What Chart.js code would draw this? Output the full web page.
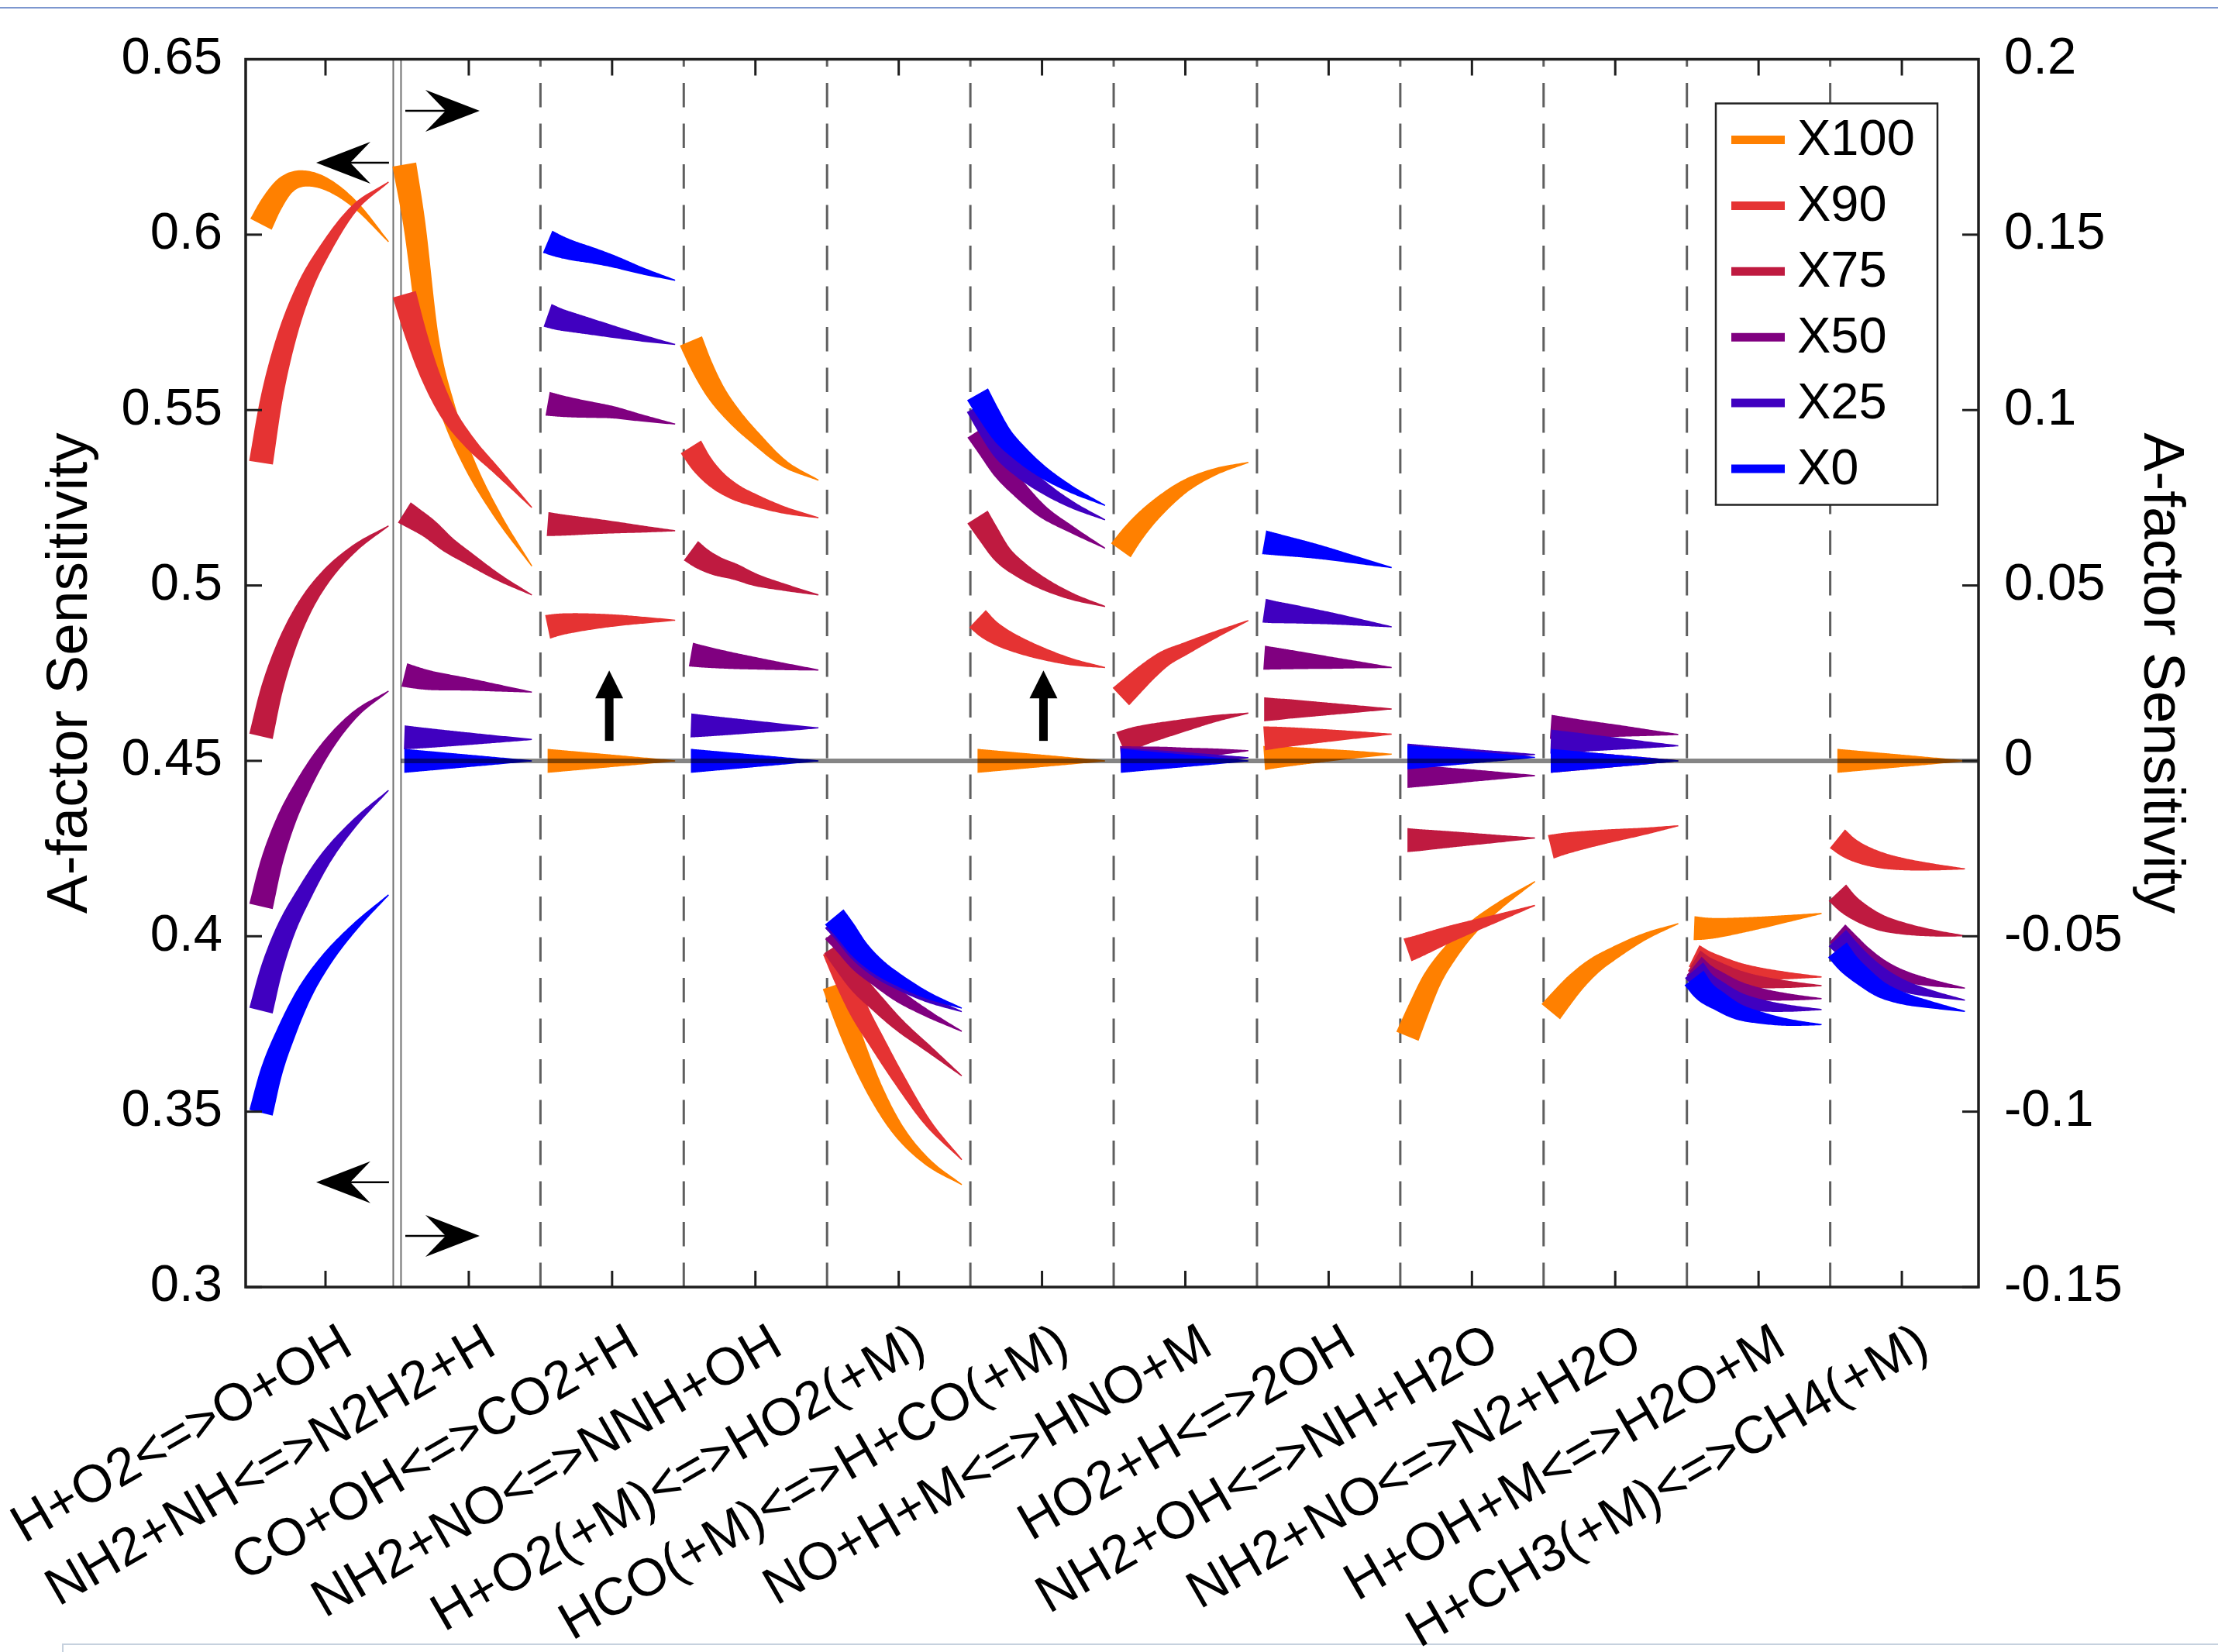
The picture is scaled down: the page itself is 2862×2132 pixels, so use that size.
<!DOCTYPE html>
<html>
<head>
<meta charset="utf-8">
<script src="https://cdn.jsdelivr.net/npm/chart.js@4.4.1/dist/chart.umd.min.js"></script>
<style>
  html, body { margin: 0; padding: 0; background: #fff; }
  #wrap { position: relative; width: 2862px; height: 2132px; overflow: hidden; background: #fff; }
  #topline { position: absolute; left: 0; top: 9px; width: 2862px; height: 2px; background: #7d97cf; }
  #panel { position: absolute; left: 80px; top: 2121px; width: 2800px; height: 40px; border: 2px solid #c6d1de; }
  #chart { position: absolute; left: 0; top: 0; }
</style>
</head>
<body>
<div id="wrap">
  <div id="topline"></div>
  <div id="panel"></div>
  <canvas id="chart" width="2862" height="2132"></canvas>
</div>
<script>
const categories = [
    "H+O2<=>O+OH", "NH2+NH<=>N2H2+H", "CO+OH<=>CO2+H", "NH2+NO<=>NNH+OH",
    "H+O2(+M)<=>HO2(+M)", "HCO(+M)<=>H+CO(+M)", "NO+H+M<=>HNO+M", "HO2+H<=>2OH",
    "NH2+OH<=>NH+H2O", "NH2+NO<=>N2+H2O", "H+OH+M<=>H2O+M", "H+CH3(+M)<=>CH4(+M)",
];
const seriesNames = ["X100", "X90", "X75", "X50", "X25", "X0"];
const seriesColors = ["#ff8000", "#e53333", "#bf1a40", "#800080", "#4000c0", "#0000ff"];

// where each curve is sampled, relative to its category centre
const sampleOffsets = [-0.45, -0.38, -0.28, -0.15, 0, 0.2, 0.44];

const leftTicks = [0.3, 0.35, 0.4, 0.45, 0.5, 0.55, 0.6, 0.65];
const rightTicks = [-0.15, -0.1, -0.05, 0, 0.05, 0.1, 0.15, 0.2];

// first category is read on the left axis, all others on the right axis
const x100 = [
    [0.603, 0.6085, 0.614, 0.616, 0.6145, 0.6088, 0.598],
    [0.170, 0.153, 0.121, 0.1005, 0.085, 0.070, 0.0555],
    [0, 0, 0, 0, 0, 0, 0],
    [0.1197, 0.113, 0.1053, 0.0983, 0.092, 0.0848, 0.080],
    [-0.064, -0.0727, -0.0835, -0.0952, -0.1055, -0.1143, -0.1208],
    [0, 0, 0, 0, 0, 0, 0],
    [0.060, 0.064, 0.0688, 0.0738, 0.0784, 0.0823, 0.0851],
    [0.0008, 0.001, 0.0012, 0.0014, 0.0016, 0.0018, 0.0019],
    [-0.0785, -0.0716, -0.0625, -0.0546, -0.0477, -0.041, -0.0344],
    [-0.0715, -0.068, -0.0633, -0.0585, -0.0546, -0.0502, -0.0464],
    [-0.0477, -0.0478, -0.0476, -0.047, -0.0462, -0.045, -0.0435],
    [0, 0, 0, 0, 0, 0, 0],
];
const x90 = [
    [0.535, 0.5525, 0.5695, 0.5845, 0.596, 0.6075, 0.615],
    [0.133, 0.123, 0.111, 0.0995, 0.091, 0.0825, 0.0722],
    [0.0382, 0.0388, 0.0393, 0.0397, 0.04, 0.0401, 0.0401],
    [0.0895, 0.085, 0.0805, 0.0768, 0.0742, 0.0715, 0.0693],
    [-0.054, -0.0615, -0.0709, -0.0803, -0.0906, -0.103, -0.1137],
    [0.0405, 0.0378, 0.0352, 0.0328, 0.0306, 0.0283, 0.0266],
    [0.0183, 0.021, 0.0248, 0.029, 0.032, 0.0358, 0.040],
    [0.0064, 0.0066, 0.0068, 0.007, 0.0072, 0.0074, 0.0076],
    [-0.0539, -0.0529, -0.0513, -0.0493, -0.0472, -0.0445, -0.0412],
    [-0.0245, -0.0238, -0.023, -0.0221, -0.0212, -0.0201, -0.0185],
    [-0.0556, -0.057, -0.0583, -0.0597, -0.0606, -0.0612, -0.0616],
    [-0.0222, -0.0245, -0.0266, -0.0283, -0.0294, -0.0302, -0.0308],
];
const x75 = [
    [0.457, 0.4695, 0.482, 0.4935, 0.5025, 0.5105, 0.517],
    [0.0708, 0.069, 0.0663, 0.0618, 0.0577, 0.0525, 0.0473],
    [0.0675, 0.0673, 0.0671, 0.0669, 0.0666, 0.0661, 0.0656],
    [0.0599, 0.0578, 0.0557, 0.054, 0.0516, 0.0495, 0.0473],
    [-0.053, -0.0575, -0.0635, -0.0692, -0.0752, -0.0818, -0.0898],
    [0.0695, 0.065, 0.059, 0.0545, 0.0507, 0.047, 0.044],
    [0.005, 0.0062, 0.0075, 0.0088, 0.0102, 0.012, 0.0136],
    [0.0147, 0.0147, 0.0148, 0.0148, 0.0148, 0.0148, 0.0148],
    [-0.0226, -0.0226, -0.0225, -0.0224, -0.0223, -0.0222, -0.022],
    [0, 0, 0, 0, 0, 0, 0],
    [-0.057, -0.0587, -0.0602, -0.0619, -0.063, -0.0637, -0.0641],
    [-0.0376, -0.0406, -0.0435, -0.0461, -0.0477, -0.049, -0.0499],
];
const x50 = [
    [0.4085, 0.4205, 0.4325, 0.4435, 0.4535, 0.463, 0.4699],
    [0.0245, 0.0238, 0.023, 0.0224, 0.0218, 0.0208, 0.0196],
    [0.1018, 0.1013, 0.1007, 0.1001, 0.0994, 0.0978, 0.096],
    [0.0303, 0.0298, 0.0292, 0.0285, 0.0278, 0.0269, 0.0259],
    [-0.0486, -0.052, -0.0572, -0.062, -0.067, -0.072, -0.0771],
    [0.094, 0.0895, 0.083, 0.077, 0.0712, 0.0661, 0.0606],
    [0.0008, 0.001, 0.0013, 0.0017, 0.002, 0.0025, 0.0029],
    [0.0294, 0.0292, 0.0289, 0.0285, 0.028, 0.0274, 0.0266],
    [-0.0043, -0.0043, -0.0043, -0.0043, -0.0042, -0.0042, -0.0042],
    [0.0097, 0.0095, 0.0092, 0.0089, 0.0086, 0.0081, 0.0075],
    [-0.0585, -0.0608, -0.0628, -0.065, -0.0664, -0.0673, -0.0678],
    [-0.0492, -0.0517, -0.0552, -0.0587, -0.0613, -0.0632, -0.0648],
];
const x25 = [
    [0.3788, 0.390, 0.4015, 0.412, 0.4222, 0.4322, 0.4416],
    [0.0067, 0.0066, 0.0065, 0.0064, 0.0063, 0.0062, 0.0061],
    [0.127, 0.126, 0.125, 0.1238, 0.1224, 0.1206, 0.1187],
    [0.0101, 0.01, 0.0099, 0.0098, 0.0097, 0.0095, 0.0094],
    [-0.0455, -0.049, -0.0545, -0.0595, -0.0635, -0.0678, -0.0715],
    [0.101, 0.0955, 0.0885, 0.083, 0.0782, 0.0732, 0.0687],
    [0.0003, 0.0004, 0.0005, 0.0006, 0.0007, 0.0008, 0.0009],
    [0.0428, 0.0424, 0.042, 0.0414, 0.0407, 0.0396, 0.0382],
    [0.0015, 0.0015, 0.0015, 0.0016, 0.0016, 0.0017, 0.0018],
    [0.0055, 0.0054, 0.0053, 0.0051, 0.0049, 0.0046, 0.0043],
    [-0.0597, -0.063, -0.0655, -0.0681, -0.0696, -0.0705, -0.0709],
    [-0.0505, -0.0535, -0.0572, -0.061, -0.064, -0.0663, -0.0682],
];
const x0 = [
    [0.3497, 0.361, 0.372, 0.3835, 0.393, 0.4025, 0.4118],
    [0, 0, 0, 0, 0, 0, 0],
    [0.148, 0.1468, 0.1455, 0.1442, 0.1425, 0.1398, 0.137],
    [0, 0, 0, 0, 0, 0, 0],
    [-0.0445, -0.048, -0.0535, -0.0585, -0.0625, -0.0668, -0.0705],
    [0.1045, 0.0995, 0.093, 0.0875, 0.0825, 0.0775, 0.0728],
    [0, 0, 0, 0, 0, 0, 0],
    [0.0623, 0.0618, 0.0611, 0.0602, 0.059, 0.0572, 0.0551],
    [0.001, 0.001, 0.001, 0.001, 0.001, 0.001, 0.001],
    [0, 0, 0, 0, 0, 0, 0],
    [-0.0619, -0.0656, -0.0684, -0.0714, -0.0731, -0.0745, -0.0752],
    [-0.0539, -0.0575, -0.0612, -0.0651, -0.0676, -0.0695, -0.0714],
];

// annotation arrows, in data units
const arrows = [
    { from: [1.443, 0.6205], to: [0.935, 0.6205], axis: "yL", head: "vback" },
    { from: [1.443, 0.3299], to: [0.935, 0.3299], axis: "yL", head: "vback" },
    { from: [1.557, 0.1853], to: [2.076, 0.1853], axis: "yR", head: "vback" },
    { from: [1.557, -0.1354], to: [2.076, -0.1354], axis: "yR", head: "vback" },
    { from: [2.98, 0.0057], to: [2.98, 0.0258], axis: "yR", head: "plain" },
    { from: [6.01, 0.0057], to: [6.01, 0.0258], axis: "yR", head: "plain" },
];

const fontFamily = "'Liberation Sans', Arial, Helvetica, sans-serif";
Chart.defaults.font.family = fontFamily;
Chart.defaults.color = "#000";

const wedgeStart = 31;
const wedgeEnd = 1.5;

const seriesValues = [x100, x90, x75, x50, x25, x0];
const datasets = [];
seriesValues.forEach(function (series, s) {
    series.forEach(function (vals, c) {
        datasets.push({
            label: seriesNames[s],
            data: vals.map((y, k) => ({ x: c + 1 + sampleOffsets[k], y: y })),
            yAxisID: c === 0 ? "yL" : "yR",
            borderColor: seriesColors[s],
            backgroundColor: seriesColors[s],
            borderWidth: 0,
            pointRadius: 0,
            pointHoverRadius: 0,
            fill: false,
            cubicInterpolationMode: "monotone",
            order: seriesNames.length - 1 - s,
        });
    });
});

// fills each curve as a wedge that narrows from left to right,
// following the spline Chart.js computed for the line
const taper = {
    id: "taper",
    afterDatasetDraw(chart, args) {
        const meta = args.meta;
        const pts = meta.data;
        if (!pts || pts.length < 2) return;
        meta.dataset.updateControlPoints(chart.chartArea, "x");
        const ctx = chart.ctx;
        const a = chart.chartArea;
        const path = [];
        const steps = 18;
        for (let i = 0; i < pts.length - 1; i++) {
            const p = pts[i], q = pts[i + 1];
            const c1x = p.cp2x ?? p.x, c1y = p.cp2y ?? p.y;
            const c2x = q.cp1x ?? q.x, c2y = q.cp1y ?? q.y;
            for (let k = i === 0 ? 0 : 1; k <= steps; k++) {
                const t = k / steps, u = 1 - t;
                path.push([
                    u * u * u * p.x + 3 * u * u * t * c1x + 3 * u * t * t * c2x + t * t * t * q.x,
                    u * u * u * p.y + 3 * u * u * t * c1y + 3 * u * t * t * c2y + t * t * t * q.y,
                ]);
            }
        }
        const xa = path[0][0], xb = path[path.length - 1][0];
        const upper = [], lower = [];
        path.forEach(function (pt, j) {
            const prev = path[Math.max(j - 1, 0)];
            const next = path[Math.min(j + 1, path.length - 1)];
            const dx = next[0] - prev[0], dy = next[1] - prev[1];
            const len = Math.hypot(dx, dy) || 1;
            const nx = -dy / len, ny = dx / len;
            const f = (pt[0] - xa) / (xb - xa);
            const hw = (wedgeStart - (wedgeStart - wedgeEnd) * f) / 2;
            upper.push([pt[0] + nx * hw, pt[1] + ny * hw]);
            lower.push([pt[0] - nx * hw, pt[1] - ny * hw]);
        });
        ctx.save();
        ctx.beginPath();
        ctx.rect(a.left, a.top, a.right - a.left, a.bottom - a.top);
        ctx.clip();
        ctx.fillStyle = chart.data.datasets[args.index].borderColor;
        ctx.beginPath();
        upper.forEach((pt, j) => (j ? ctx.lineTo(pt[0], pt[1]) : ctx.moveTo(pt[0], pt[1])));
        for (let j = lower.length - 1; j >= 0; j--) ctx.lineTo(lower[j][0], lower[j][1]);
        ctx.closePath();
        ctx.fill();
        ctx.restore();
    },
};

function drawArrow(ctx, x1, y1, x2, y2, head) {
    const ang = Math.atan2(y2 - y1, x2 - x1);
    ctx.save();
    ctx.translate(x2, y2);
    ctx.rotate(ang);
    const len = Math.hypot(x2 - x1, y2 - y1);
    ctx.fillStyle = "#000";
    ctx.strokeStyle = "#000";
    if (head === "vback") {
        ctx.lineWidth = 2.5;
        ctx.beginPath();
        ctx.moveTo(-len, 0);
        ctx.lineTo(-38, 0);
        ctx.stroke();
        ctx.beginPath();
        ctx.moveTo(0, 0);
        ctx.lineTo(-70, -27);
        ctx.lineTo(-44, 0);
        ctx.lineTo(-70, 27);
        ctx.closePath();
        ctx.fill();
    } else {
        ctx.fillRect(-len, -5.5, len - 34, 11);
        ctx.beginPath();
        ctx.moveTo(0, 0);
        ctx.lineTo(-36, -18);
        ctx.lineTo(-36, 18);
        ctx.closePath();
        ctx.fill();
    }
    ctx.restore();
}

const decorations = {
    id: "decorations",
    beforeDatasetsDraw(chart) {
        const { ctx, chartArea: a, scales } = chart;
        const x = scales.x;
        ctx.save();
        ctx.strokeStyle = "#5f5f5f";
        ctx.lineWidth = 3;
        ctx.setLineDash([31.5, 21]);
        for (let i = 2; i < categories.length; i++) {
            const px = x.getPixelForValue(i + 0.5);
            ctx.beginPath();
            ctx.moveTo(px, a.bottom);
            ctx.lineTo(px, a.top);
            ctx.stroke();
        }
        ctx.setLineDash([]);
        const sep = x.getPixelForValue(1.5);
        ctx.strokeStyle = "#707070";
        ctx.lineWidth = 2;
        [-5, 5].forEach(function (d) {
            ctx.beginPath();
            ctx.moveTo(sep + d, a.top);
            ctx.lineTo(sep + d, a.bottom);
            ctx.stroke();
        });
        ctx.restore();
    },
    afterDatasetsDraw(chart) {
        const { ctx, chartArea: a, scales } = chart;
        const x = scales.x, yL = scales.yL, yR = scales.yR;
        ctx.save();

        // zero line of the right axis
        const sep = x.getPixelForValue(1.5);
        const y0 = yR.getPixelForValue(0);
        ctx.strokeStyle = "rgba(0,0,0,0.48)";
        ctx.lineWidth = 6;
        ctx.beginPath();
        ctx.moveTo(sep + 5, y0);
        ctx.lineTo(a.right, y0);
        ctx.stroke();

        // frame and inward ticks
        ctx.strokeStyle = "#1e1e1e";
        ctx.lineWidth = 3;
        const tl = 21;
        categories.forEach(function (_, i) {
            const px = x.getPixelForValue(i + 1);
            ctx.beginPath();
            ctx.moveTo(px, a.bottom);
            ctx.lineTo(px, a.bottom - tl);
            ctx.moveTo(px, a.top);
            ctx.lineTo(px, a.top + tl);
            ctx.stroke();
        });
        leftTicks.forEach(function (v) {
            const py = yL.getPixelForValue(v);
            ctx.beginPath();
            ctx.moveTo(a.left, py);
            ctx.lineTo(a.left + tl, py);
            ctx.stroke();
        });
        rightTicks.forEach(function (v) {
            const py = yR.getPixelForValue(v);
            ctx.beginPath();
            ctx.moveTo(a.right, py);
            ctx.lineTo(a.right - tl, py);
            ctx.stroke();
        });
        ctx.lineWidth = 3.5;
        ctx.strokeRect(a.left, a.top, a.right - a.left, a.bottom - a.top);

        // arrows
        arrows.forEach(function (ar) {
            const ys = scales[ar.axis];
            drawArrow(ctx,
                x.getPixelForValue(ar.from[0]), ys.getPixelForValue(ar.from[1]),
                x.getPixelForValue(ar.to[0]), ys.getPixelForValue(ar.to[1]), ar.head);
        });

        // legend box
        const bx = a.right - 339, by = a.top + 57, bw = 286, bh = 518;
        ctx.fillStyle = "#fff";
        ctx.fillRect(bx, by, bw, bh);
        ctx.strokeStyle = "#222";
        ctx.lineWidth = 2.5;
        ctx.strokeRect(bx, by, bw, bh);
        ctx.font = "65px " + fontFamily;
        ctx.textBaseline = "middle";
        ctx.textAlign = "left";
        seriesNames.forEach(function (name, i) {
            const ly = by + 47 + i * 84.9;
            ctx.strokeStyle = seriesColors[i];
            ctx.lineWidth = 11;
            ctx.beginPath();
            ctx.moveTo(bx + 20, ly);
            ctx.lineTo(bx + 89, ly);
            ctx.stroke();
            ctx.fillStyle = "#000";
            ctx.fillText(name, bx + 105, ly + 2);
        });
        ctx.restore();
    },
};

new Chart(document.getElementById("chart"), {
    type: "line",
    data: { datasets: datasets },
    options: {
        responsive: false,
        animation: false,
        devicePixelRatio: 1,
        events: [],
        layout: { padding: { top: 76.5, left: 0, right: 0, bottom: 0 } },
        plugins: { legend: { display: false }, tooltip: { enabled: false } },
        scales: {
            x: {
                type: "linear",
                position: "bottom",
                min: 0.443,
                max: 12.535,
                grid: { display: false, drawTicks: false },
                border: { display: false },
                afterBuildTicks: function (s) {
                    s.ticks = categories.map((_, i) => ({ value: i + 1 }));
                },
                afterFit: function (s) {
                    s.height = 471;
                    s.paddingLeft = 0;
                    s.paddingRight = 0;
                },
                ticks: {
                    autoSkip: false,
                    minRotation: 30,
                    maxRotation: 30,
                    padding: 33,
                    labelOffset: 29,
                    color: "#000",
                    font: { size: 68 },
                    callback: (v) => categories[Math.round(v) - 1],
                },
            },
            yL: {
                type: "linear",
                position: "left",
                min: 0.3,
                max: 0.65,
                grid: { display: false, drawTicks: false },
                border: { display: false },
                afterBuildTicks: function (s) {
                    s.ticks = leftTicks.map((v) => ({ value: v }));
                },
                afterFit: function (s) {
                    s.width = 317;
                    s.paddingTop = 0;
                    s.paddingBottom = 0;
                },
                ticks: {
                    padding: 30,
                    color: "#000",
                    font: { size: 67 },
                    callback: (v) => String(+v.toFixed(2)),
                },
                title: {
                    display: true,
                    text: "A-factor Sensitivity",
                    color: "#000",
                    font: { size: 75 },
                    padding: { top: 46, bottom: 0 },
                },
            },
            yR: {
                type: "linear",
                position: "right",
                min: -0.15,
                max: 0.2,
                grid: { display: false, drawTicks: false },
                border: { display: false },
                afterBuildTicks: function (s) {
                    s.ticks = rightTicks.map((v) => ({ value: v }));
                },
                afterFit: function (s) {
                    s.width = 309;
                    s.paddingTop = 0;
                    s.paddingBottom = 0;
                },
                ticks: {
                    padding: 33,
                    color: "#000",
                    font: { size: 67 },
                    callback: (v) => String(+v.toFixed(2)),
                },
                title: {
                    display: true,
                    text: "A-factor Sensitivity",
                    color: "#000",
                    font: { size: 75 },
                    padding: { top: 29, bottom: 0 },
                },
            },
        },
    },
    plugins: [taper, decorations],
});
</script>
</body>
</html>
